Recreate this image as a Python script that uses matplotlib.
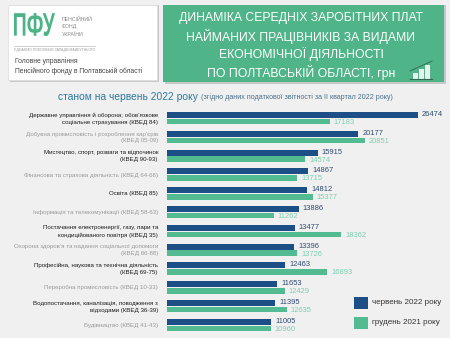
import matplotlib
matplotlib.use("Agg")
import matplotlib.pyplot as plt
from matplotlib.patches import Rectangle, PathPatch
from matplotlib.textpath import TextPath
from matplotlib.font_manager import FontProperties
from matplotlib.transforms import Affine2D, IdentityTransform
import numpy as np

categories = [
    "Державне управління й оборона; обов'язкове\nсоціальне страхування (КВЕД 84)",
    "Добувна промисловість і розроблення кар'єрів\n(КВЕД 05-09)",
    "Мистецтво, спорт, розваги та відпочинок\n(КВЕД 90-93)",
    "Фінансова та страхова діяльність (КВЕД 64-66)",
    "Освіта (КВЕД 85)",
    "Інформація та телекомунікації (КВЕД 58-63)",
    "Постачання електроенергії, газу, пари та\nкондиційованого повітря (КВЕД 35)",
    "Охорона здоров'я та надання соціальної допомоги\n(КВЕД 86-88)",
    "Професійна, наукова та технічна діяльність\n(КВЕД 69-75)",
    "Переробна промисловість (КВЕД 10-33)",
    "Водопостачання, каналізація, поводження з\nвідходами (КВЕД 36-39)",
    "Будівництво (КВЕД 41-43)",
]
jun2022 = [26474, 20177, 15915, 14867, 14812, 13886, 13477, 13396, 12463, 11653, 11395, 11005]
dec2021 = [17183, 20851, 14574, 13715, 15377, 11262, 18362, 13726, 16893, 12429, 12635, 10960]
series_names = ["червень 2022 року", "грудень 2021 року"]

W, H = 450, 338
BG = "#f0f0f0"
NAVY = "#1c4f86"
GREEN = "#52bb92"
plt.rcParams["font.family"] = ["Liberation Sans", "DejaVu Sans"]

fig = plt.figure(figsize=(W / 100, H / 100), dpi=100, facecolor=BG)

def fx(x):
    return x / W

def fy(y):
    return 1 - y / H

# ---------- header ----------
fig.patches.append(Rectangle((fx(10), fy(82)), fx(149), 77 / H, transform=fig.transFigure,
                             facecolor="#c8c8c8", edgecolor="none", zorder=0))
fig.patches.append(Rectangle((fx(8), fy(80)), fx(149), 75 / H, transform=fig.transFigure,
                             facecolor="white", edgecolor="#dddddd", lw=0.5, zorder=1))
# condensed "ПФУ" logo drawn as a scaled text path (pixel coordinates)
tp = TextPath((0, 0), "ПФУ", size=10, prop=FontProperties(family="Liberation Sans", weight="bold"))
ext = tp.get_extents()
sx = 41.0 / ext.width
sy = 23.0 / ext.height
logo_tr = Affine2D().translate(-ext.x0, -ext.y0).scale(sx, sy).translate(14, H - 36)
fig.patches.append(PathPatch(tp, transform=logo_tr + IdentityTransform(), facecolor="#4cb386",
                             edgecolor="none", zorder=2))
for i, t in enumerate(["ПЕНСІЙНИЙ", "ФОНД", "УКРАЇНИ"]):
    fig.text(fx(62), fy(19 + 7.5 * i), t, fontsize=3.8, color="#888888", va="center", ha="left", zorder=2)
fig.lines.append(plt.Line2D([fx(14), fx(95)], [fy(45.5), fy(45.5)], transform=fig.transFigure,
                            color="#bbbbbb", lw=0.5, zorder=2))
fig.text(fx(14), fy(49.5), "ЄДНАЄМО ПОКОЛІННЯ ЗАРАДИ МАЙБУТНЬОГО", fontsize=2.5, color="#999999",
         va="center", ha="left", zorder=2)
fig.text(fx(15), fy(61), "Головне управління", fontsize=4.9, color="#444444", va="center", ha="left", zorder=2)
fig.text(fx(15), fy(71), "Пенсійного фонду в Полтавській області", fontsize=4.9, color="#444444",
         va="center", ha="left", zorder=2)

# right green title box with shadow
fig.patches.append(Rectangle((fx(165), fy(84)), fx(281), 79 / H, transform=fig.transFigure,
                             facecolor="#c8c8c8", edgecolor="none", zorder=0))
fig.patches.append(Rectangle((fx(163), fy(82)), fx(281), 77 / H, transform=fig.transFigure,
                             facecolor="#4fb487", edgecolor="none", zorder=1))
title_lines = ["ДИНАМІКА СЕРЕДНІХ ЗАРОБІТНИХ ПЛАТ",
               "НАЙМАНИХ ПРАЦІВНИКІВ ЗА ВИДАМИ",
               "ЕКОНОМІЧНОЇ ДІЯЛЬНОСТІ",
               "ПО ПОЛТАВСЬКІЙ ОБЛАСТІ, грн"]
title_cy = [18, 36, 54, 72]
for t, cy in zip(title_lines, title_cy):
    fig.text(fx(301), fy(cy), t, fontsize=8.8, color="white", ha="center", va="center", zorder=2)
# small chart icon
for x0, h in [(413, 6), (419, 10), (425, 14)]:
    fig.patches.append(Rectangle((fx(x0), fy(79)), fx(4.5), h / H, transform=fig.transFigure,
                                 facecolor="#e6f3ec", edgecolor="none", zorder=2))
fig.lines.append(plt.Line2D([fx(410), fx(432)], [fy(79), fy(79)], transform=fig.transFigure,
                            color="#2f6a4f", lw=0.8, zorder=3))
fig.lines.append(plt.Line2D([fx(410), fx(432)], [fy(71), fy(61)], transform=fig.transFigure,
                            color="#2f6a4f", lw=0.6, zorder=3))

# subtitle
fig.text(fx(58), fy(97), "станом на червень 2022 року", fontsize=7.4, color="#2b7a9f",
         ha="left", va="center")
fig.text(fx(201), fy(97.5), "(згідно даних податкової звітності за ІІ квартал 2022 року)",
         fontsize=5.15, color="#4a6f8a", ha="left", va="center")

# ---------- bars ----------
row0, step = 115.0, 18.8
ax_top, ax_bot = 105.0, 333.0
x0px, scale = 167.0, 251.0 / 26474.0
xmax = (W - x0px) / scale
ax = fig.add_axes([fx(x0px), fy(ax_bot), fx(W - x0px), (ax_bot - ax_top) / H])
ax.set_xlim(0, xmax)
ax.set_ylim((ax_bot - row0) / step, (ax_top - row0) / step)
ax.axis("off")
ax.set_facecolor("none")

y = np.arange(len(categories))
nav_h = 6.0 / step
grn_off = 6.6 / step
grn_h = 5.6 / step
ax.barh(y, jun2022, height=nav_h, color=NAVY, edgecolor="none")
ax.barh(y + grn_off, dec2021, height=grn_h, color=GREEN, edgecolor="none")

pad = 4.0 / scale
for i in range(len(categories)):
    ax.text(jun2022[i] + pad, y[i] - 0.03, f"{jun2022[i]}", fontsize=5.4, color="#2d4a70",
            va="center", ha="left")
    ax.text(dec2021[i] + pad, y[i] + grn_off + 0.05, f"{dec2021[i]}", fontsize=5.4, color="#7dcfae",
            va="center", ha="left")
    dark = (i % 2 == 0)
    ax.text(-9.0 / scale, y[i] + grn_off / 2 + 0.02, categories[i], fontsize=4.4,
            color="#1a1a1a" if dark else "#9a9a9a", ha="right", va="center",
            multialignment="right", linespacing=1.45, clip_on=False)

# ---------- legend ----------
for k, (col, name) in enumerate(zip([NAVY, GREEN], series_names)):
    top = 297 + 20 * k
    fig.patches.append(Rectangle((fx(354), fy(top + 12)), fx(14), 12 / H, transform=fig.transFigure,
                                 facecolor=col, edgecolor="none"))
    fig.text(fx(372), fy(top + 6), name, fontsize=5.8, color="#333333",
             ha="left", va="center")

fig.savefig("out.png", dpi=100, facecolor=BG)
